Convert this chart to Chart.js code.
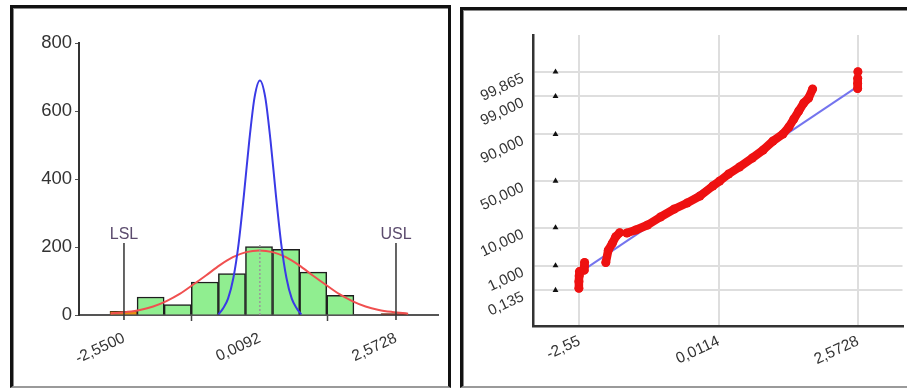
<!DOCTYPE html>
<html>
<head>
<meta charset="utf-8">
<script src="https://cdn.jsdelivr.net/npm/chart.js@4.4.1/dist/chart.umd.min.js"></script>
<style>
  body { margin: 0; width: 907px; height: 388px; overflow: hidden; background: #fff; position: relative; }
  .panel { position: absolute; box-sizing: border-box; background: #fff; border: 3px solid #111; border-bottom: 2px solid #9a9a9a; box-shadow: inset 1px 1px 0 #8a8a8a; }
  #left { left: 10px; top: 5px; width: 441px; height: 383px; }
  #right { left: 460px; top: 7px; width: 470px; height: 381px; }
  canvas { position: absolute; top: 0; }
  #hist { left: 0; }
  #prob { left: 455px; }
</style>
</head>
<body>
<div class="panel" id="left"></div>
<div class="panel" id="right"></div>
<canvas id="hist" width="455" height="388"></canvas>
<canvas id="prob" width="452" height="388"></canvas>
<script>
// Histogram data
const histCenters = [-2.559, -2.048, -1.538, -1.027, -0.517, -0.007, 0.504, 1.014, 1.525, 2.035, 2.545];
const histCounts = [11, 53, 31, 97, 122, 201, 193, 126, 58, 0, 4];
const histTicks = [-2.55, 0.0092, 2.5728];
const histTickLabels = ['-2,5500', '0,0092', '2,5728'];
const specLimits = [-2.55, 2.5728];
const specNames = ['LSL', 'USL'];
const histMean = 0.0092;
const specTop = 212;

// overall fit (red) and within fit (blue)
const overallX = [-2.8, -2.5, -2.25, -2.0, -1.75, -1.5, -1.25, -1.0, -0.75, -0.5, -0.25, 0.0, 0.25, 0.5, 0.75, 1.0, 1.25, 1.5, 1.75, 2.0, 2.25, 2.5, 2.8];
const overallY = [4, 9, 15, 25, 41, 62, 89, 117, 146, 170, 185, 190, 185, 170, 146, 117, 89, 62, 41, 25, 15, 9, 4];
const withinX = [-0.77, -0.69, -0.59, -0.49, -0.39, -0.29, -0.19, -0.09, 0.01, 0.11, 0.21, 0.31, 0.41, 0.51, 0.61, 0.71, 0.79];
const withinY = [2, 18, 48, 109, 211, 355, 513, 641, 690, 641, 513, 355, 211, 109, 48, 18, 2];

// Probability plot data (y in normal quantiles)
const probTicksX = [-2.55, 0.0114, 2.5728];
const probTickLabelsX = ['-2,55', '0,0114', '2,5728'];
const probTicksZ = [-3, -2.326, -1.2816, 0, 1.2816, 2.326, 3];
const probTickLabelsZ = ['0,135', '1,000', '10,000', '50,000', '90,000', '99,000', '99,865'];
const probMarkerX = -2.99;
const probFitLine = [[-2.52, -2.49], [2.52, 2.55]];
const probSegA = [[-2.56, -2.95], [-2.56, -2.76], [-2.555, -2.6], [-2.55, -2.49]];
const probSegB = [[-2.465, -2.45], [-2.46, -2.34], [-2.455, -2.24]];
const probSegC = [[-2.065, -2.24], [-2.02, -1.90], [-1.945, -1.71], [-1.883, -1.53], [-1.81, -1.42]];
const probSegD = [
  [-1.678, -1.429], [-1.515, -1.346], [-1.297, -1.209], [-1.060, -0.989], [-0.806, -0.769],
  [-0.570, -0.604], [-0.334, -0.412], [-0.098, -0.137], [0.029, 0.0], [0.193, 0.192],
  [0.393, 0.385], [0.629, 0.632], [0.829, 0.852], [1.010, 1.099], [1.192, 1.291],
  [1.301, 1.484], [1.392, 1.703], [1.483, 1.923], [1.574, 2.143], [1.664, 2.280], [1.737, 2.527]
];
const probSegE = [[2.565, 2.54], [2.565, 2.68], [2.567, 2.82]];
const probTopPoint = [[2.57, 3.0]];

Chart.defaults.font.family = '"Liberation Sans", Arial, sans-serif';
Chart.defaults.color = '#333';

const toXY = (xs, ys) => xs.map((x, i) => ({ x: x, y: ys[i] }));
const pairs = arr => arr.map(p => ({ x: p[0], y: p[1] }));

const specPlugin = {
  id: 'specLines',
  afterDatasetsDraw(chart) {
    const { ctx, scales: { x, y } } = chart;
    const top = y.getPixelForValue(specTop);
    const bottom = y.getPixelForValue(0);
    ctx.save();
    const mx = x.getPixelForValue(histMean);
    ctx.strokeStyle = '#999';
    ctx.lineWidth = 1.5;
    ctx.setLineDash([2, 2]);
    ctx.beginPath();
    ctx.moveTo(mx, bottom);
    ctx.lineTo(mx, top);
    ctx.stroke();
    ctx.setLineDash([]);
    ctx.strokeStyle = '#333';
    ctx.fillStyle = '#5b4b6d';
    ctx.font = '16px "Liberation Sans", Arial, sans-serif';
    ctx.textAlign = 'center';
    specLimits.forEach((v, i) => {
      const px = x.getPixelForValue(v);
      ctx.beginPath();
      ctx.moveTo(px, top);
      ctx.lineTo(px, bottom + 5);
      ctx.stroke();
      ctx.fillText(specNames[i], px, top - 4);
    });
    ctx.restore();
  }
};

const lastBar = histCounts.length - 1;

new Chart(document.getElementById('hist'), {
  type: 'bar',
  data: {
    datasets: [
      {
        type: 'line',
        data: toXY(withinX, withinY),
        borderColor: '#3a3ae6',
        borderWidth: 2,
        pointRadius: 0,
        cubicInterpolationMode: 'monotone',
        order: 0
      },
      {
        type: 'line',
        data: toXY(overallX, overallY),
        borderColor: '#f05050',
        borderWidth: 2,
        pointRadius: 0,
        cubicInterpolationMode: 'monotone',
        order: 1
      },
      {
        data: toXY(histCenters, histCounts),
        backgroundColor: c => c.dataIndex === 0 ? '#e8900f' : (c.dataIndex === lastBar ? '#9a1a1a' : '#90ee90'),
        borderColor: c => (c.dataIndex === 0 || c.dataIndex === lastBar) ? '#5a3a10' : '#1e1e1e',
        borderWidth: c => (c.dataIndex === 0 || c.dataIndex === lastBar) ? 1 : 1.5,
        barPercentage: 1,
        categoryPercentage: 1,
        order: 2
      }
    ]
  },
  options: {
    responsive: false,
    animation: false,
    layout: { padding: { top: 43, right: 17, left: 0, bottom: 0 } },
    plugins: { legend: { display: false }, tooltip: { enabled: false } },
    scales: {
      x: {
        type: 'linear',
        min: -3.397,
        max: 3.364,
        offset: false,
        grid: { drawOnChartArea: false, tickLength: 6, tickColor: '#444', tickWidth: 1.5 },
        border: { color: '#555', width: 2 },
        afterBuildTicks: axis => { axis.ticks = histTicks.map(v => ({ value: v })); },
        afterFit: axis => { axis.height = 73; axis.paddingLeft = 0; axis.paddingRight = 0; },
        ticks: {
          autoSkip: false,
          minRotation: 25,
          maxRotation: 25,
          padding: 8,
          font: { size: 15.5 },
          callback: (v, i) => histTickLabels[i]
        }
      },
      y: {
        min: 0,
        max: 800,
        grid: { drawOnChartArea: false, tickLength: 4, tickColor: '#555' },
        border: { color: '#333', width: 2 },
        afterFit: axis => { axis.width = 79; axis.paddingTop = 0; axis.paddingBottom = 0; },
        ticks: { stepSize: 200, padding: 3, font: { size: 18.5 } }
      }
    }
  },
  plugins: [specPlugin]
});

const redSeg = {
  showLine: true,
  borderColor: '#ee1111',
  backgroundColor: '#ee1111',
  borderWidth: 8.5,
  borderCapStyle: 'round',
  borderJoinStyle: 'round',
  pointRadius: 4.5,
  pointBorderWidth: 0,
  order: 1
};

new Chart(document.getElementById('prob'), {
  type: 'scatter',
  data: {
    datasets: [
      {
        data: pairs(probFitLine),
        showLine: true,
        borderColor: '#7474ee',
        borderWidth: 2,
        pointRadius: 0,
        order: 2
      },
      Object.assign({ data: pairs(probSegA) }, redSeg),
      Object.assign({ data: pairs(probSegB) }, redSeg),
      Object.assign({ data: pairs(probSegC) }, redSeg),
      Object.assign({ data: pairs(probSegD) }, redSeg),
      Object.assign({ data: pairs(probSegE) }, redSeg),
      Object.assign({ data: pairs(probTopPoint) }, redSeg),
      {
        data: probTicksZ.map(z => ({ x: probMarkerX, y: z })),
        pointStyle: 'triangle',
        pointRadius: 3.4,
        backgroundColor: '#111',
        borderColor: '#111',
        borderWidth: 0,
        order: 0
      }
    ]
  },
  options: {
    responsive: false,
    animation: false,
    layout: { padding: { top: 35, right: 0, left: 0, bottom: 0 } },
    plugins: { legend: { display: false }, tooltip: { enabled: false } },
    scales: {
      x: {
        type: 'linear',
        min: -3.404,
        max: 3.39,
        grid: { color: '#dedede', lineWidth: 2, drawTicks: false },
        border: { color: '#333', width: 2.5 },
        afterBuildTicks: axis => { axis.ticks = probTicksX.map(v => ({ value: v })); },
        afterFit: axis => { axis.height = 62; axis.paddingLeft = 0; axis.paddingRight = 0; },
        ticks: {
          autoSkip: false,
          minRotation: 25,
          maxRotation: 25,
          padding: 6,
          font: { size: 15.5 },
          callback: (v, i) => probTickLabelsX[i]
        }
      },
      y: {
        min: -3.984,
        max: 4.011,
        grid: { color: '#dedede', lineWidth: 2, drawTicks: false },
        border: { color: '#333', width: 2.5 },
        afterBuildTicks: axis => { axis.ticks = probTicksZ.map(v => ({ value: v })); },
        afterFit: axis => { axis.width = 78; axis.paddingTop = 0; axis.paddingBottom = 0; },
        ticks: {
          autoSkip: false,
          minRotation: 25,
          maxRotation: 25,
          padding: 10,
          labelOffset: 6,
          font: { size: 15 },
          callback: (v, i) => probTickLabelsZ[i]
        }
      }
    }
  }
});
</script>
</body>
</html>
